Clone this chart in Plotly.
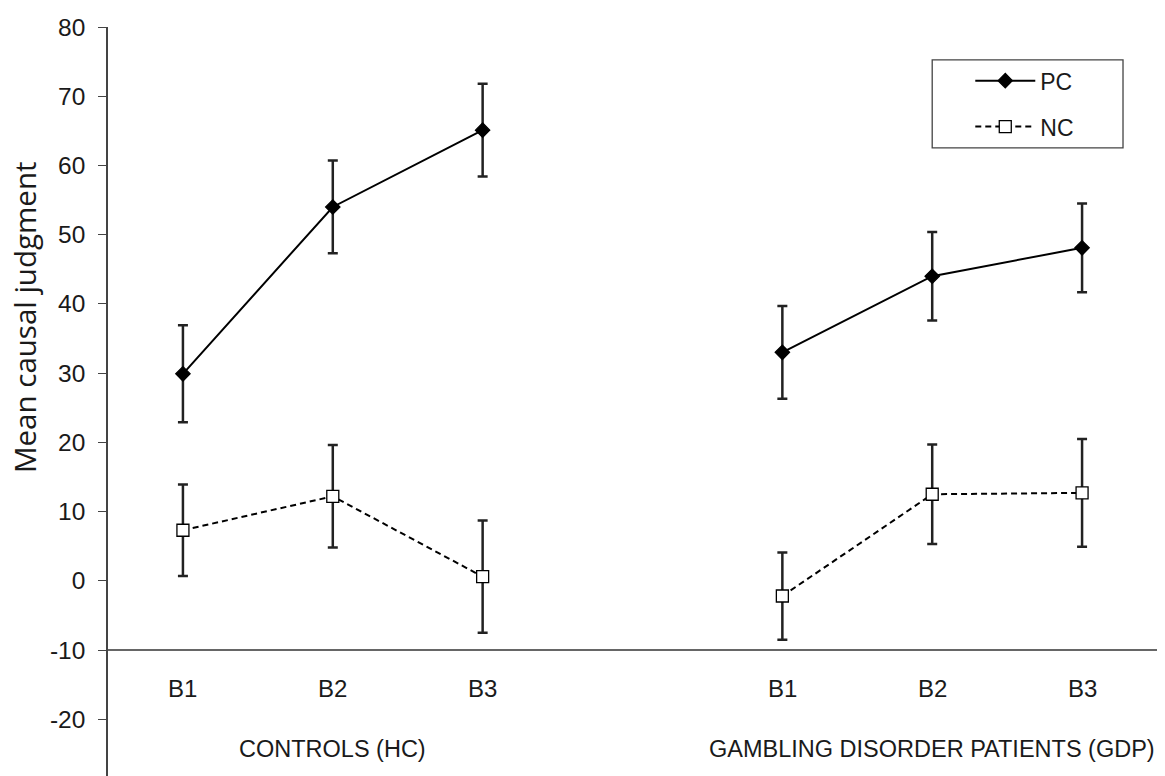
import plotly.graph_objects as go

# Session blocks within each group
blocks = ["B1", "B2", "B3"]
groups = ["CONTROLS (HC)", "GAMBLING DISORDER PATIENTS (GDP)"]
group_offsets = [0, 4]  # x position of the first block in each group

# Mean causal judgments and error-bar half-lengths
pc_hc = [29.9, 54.0, 65.1]
pc_hc_err = [7.0, 6.7, 6.7]
pc_gdp = [33.0, 44.0, 48.1]
pc_gdp_err = [6.7, 6.4, 6.4]

nc_hc = [7.3, 12.2, 0.6]
nc_hc_err = [6.6, 7.4, 8.1]
nc_gdp = [-2.2, 12.5, 12.7]
nc_gdp_err = [6.3, 7.2, 7.8]

y_ticks = list(range(-20, 81, 10))
y_tick_text = [str(v) for v in y_ticks]  # plain hyphen for negatives

FONT = "Liberation Sans, Arial, sans-serif"
INK = "#1a1a1a"

fig = go.Figure()


def add_series(name, values, errors, offset, dash, symbol, fill, size, show):
    xs = [offset + i for i in range(len(values))]
    fig.add_trace(go.Scatter(
        x=xs, y=values, name=name, legendgroup=name, showlegend=show,
        mode="lines+markers",
        line=dict(color="black", width=2, dash=dash),
        marker=dict(symbol=symbol, size=size, color=fill,
                    line=dict(color="black", width=1.3)),
        error_y=dict(type="data", array=errors, visible=True,
                     color="#222", thickness=2.5, width=5),
    ))


for gi, off in enumerate(group_offsets):
    add_series("PC", [pc_hc, pc_gdp][gi], [pc_hc_err, pc_gdp_err][gi], off,
               "solid", "diamond", "black", 11, gi == 0)
for gi, off in enumerate(group_offsets):
    add_series("NC", [nc_hc, nc_gdp][gi], [nc_hc_err, nc_gdp_err][gi], off,
               "6px,4px", "square", "white", 12, gi == 0)

# Horizontal baseline at -10 acting as the category axis
fig.add_shape(type="line", xref="x", yref="y", x0=-0.5, x1=6.5, y0=-10, y1=-10,
              line=dict(color="#333", width=1.3), layer="below")

# Frame around the legend
fig.add_shape(type="rect", xref="paper", yref="paper",
              x0=0.7857, x1=0.9676, y0=0.8385, y1=0.956,
              line=dict(color="#444", width=1.3), fillcolor="white", layer="below")

# Block labels and group titles under the baseline
for off in group_offsets:
    for i, b in enumerate(blocks):
        fig.add_annotation(x=off + i, y=-15.6, text=b, showarrow=False,
                           font=dict(family=FONT, size=24, color=INK))
group_centers = [1, 5]
for g, cx in zip(groups, group_centers):
    fig.add_annotation(x=cx, y=-24.3, text=g, showarrow=False,
                       font=dict(family=FONT, size=23.5, color=INK))

# Y-axis title
fig.add_annotation(xref="paper", yref="paper", x=-0.079, y=0.613,
                   xanchor="center", yanchor="middle",
                   text="Mean causal judgment", textangle=-90, showarrow=False,
                   font=dict(family="Open Sans, sans-serif", size=29.5, color=INK))

fig.update_layout(
    width=1165, height=776,
    margin=dict(l=108, r=8, t=27, b=0),
    paper_bgcolor="white", plot_bgcolor="white",
    showlegend=True,
    legend=dict(
        x=0.822, y=0.957, xanchor="left", yanchor="top",
        borderwidth=0, bgcolor="rgba(0,0,0,0)",
        font=dict(family=FONT, size=23, color=INK),
        tracegroupgap=13, itemwidth=60,
    ),
    xaxis=dict(range=[-0.5, 6.5], visible=False),
    yaxis=dict(
        range=[-28.2, 80], tickvals=y_ticks, ticktext=y_tick_text,
        showgrid=False, zeroline=False,
        showline=True, linecolor="#444", linewidth=1.5,
        ticks="outside", ticklen=8, tickcolor="#444", tickwidth=1.3,
        ticklabelstandoff=8,
        tickfont=dict(family=FONT, size=24.5, color=INK),
    ),
)

fig.write_html("out.html")
